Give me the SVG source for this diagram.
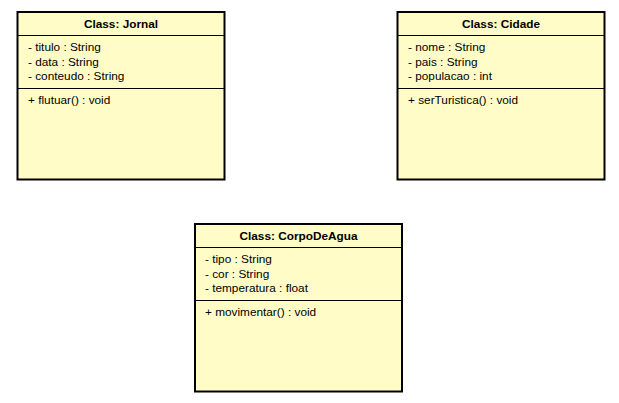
<svg xmlns="http://www.w3.org/2000/svg" width="619" height="403" viewBox="0 0 619 403">
<style>
.box{fill:#fffcc8;stroke:#000;stroke-width:2}
.sep{stroke:#000;stroke-width:1}
.t{font-family:"Liberation Sans",Arial,sans-serif;font-size:11.8px;fill:#000}
.h{font-weight:bold;text-anchor:middle}
</style>
<rect width="619" height="403" fill="#fff"/>
<g id="Jornal">
<rect class="box" x="17.5" y="12" width="207" height="167.5"/>
<line class="sep" x1="17.5" y1="35.5" x2="224.5" y2="35.5"/>
<line class="sep" x1="17.5" y1="88.5" x2="224.5" y2="88.5"/>
<text class="t h" x="121" y="28">Class: Jornal</text>
<text class="t" x="28" y="51">- titulo : String</text>
<text class="t" x="28" y="66">- data : String</text>
<text class="t" x="28" y="80">- conteudo : String</text>
<text class="t" x="28" y="104">+ flutuar() : void</text>
</g>
<g id="Cidade">
<rect class="box" x="397.5" y="12" width="207" height="167.5"/>
<line class="sep" x1="397.5" y1="35.5" x2="604.5" y2="35.5"/>
<line class="sep" x1="397.5" y1="88.5" x2="604.5" y2="88.5"/>
<text class="t h" x="501" y="28">Class: Cidade</text>
<text class="t" x="408" y="51">- nome : String</text>
<text class="t" x="408" y="66">- pais : String</text>
<text class="t" x="408" y="80">- populacao : int</text>
<text class="t" x="408" y="104">+ serTuristica() : void</text>
</g>
<g id="CorpoDeAgua">
<rect class="box" x="195" y="224" width="207" height="167.5"/>
<line class="sep" x1="195" y1="247.5" x2="402" y2="247.5"/>
<line class="sep" x1="195" y1="300.5" x2="402" y2="300.5"/>
<text class="t h" x="298.5" y="240">Class: CorpoDeAgua</text>
<text class="t" x="205" y="263">- tipo : String</text>
<text class="t" x="205" y="278">- cor : String</text>
<text class="t" x="205" y="292">- temperatura : float</text>
<text class="t" x="205" y="316">+ movimentar() : void</text>
</g>
<g id="connectors"/>
</svg>
